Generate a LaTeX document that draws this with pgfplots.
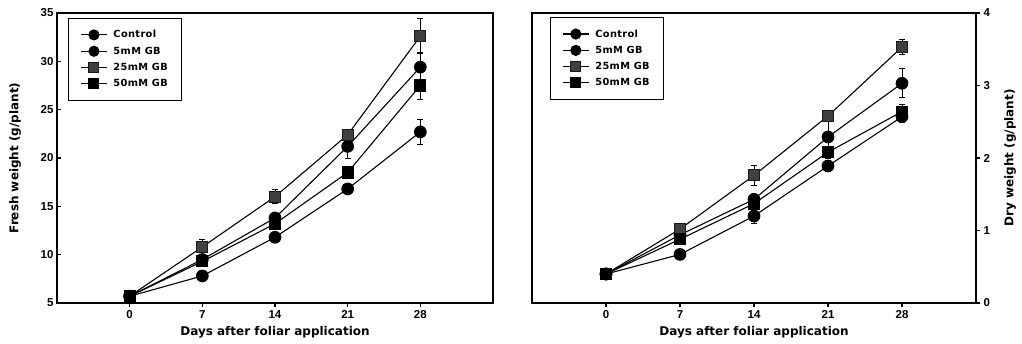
\documentclass[border=0pt]{standalone}
\usepackage{fontspec}
\setmainfont{Liberation Sans}
\newfontfamily\lsfont{DejaVu Sans}
\newfontfamily\lgfont[LetterSpace=3.7]{DejaVu Sans}
\usepackage{pgfplots}
\pgfplotsset{compat=1.18}
\pgfplotsset{
  base/.style={
    scale only axis, height=290pt,
    xmin=-7, xmax=35,
    xtick={0,7,14,21,28},
    major tick length=4pt,
    x tick style={line width=1.2pt, black},
    y tick style={line width=1.2pt, black},
    axis line style={line width=1.6pt},
    /pgf/number format/assume math mode=true,
    ticklabel style={font=\bfseries\fontsize{11.5}{12}\selectfont},
    label style={font=\lsfont\bfseries\fontsize{12}{13}\selectfont},
    legend cell align=left,
    legend style={draw=black, line width=1pt, font=\lgfont\bfseries\fontsize{9.8}{11}\selectfont,
      inner xsep=12pt, inner ysep=10pt, row sep=3.5pt, column sep=4pt, anchor=north west},
    legend image code/.code={\draw[mark repeat=2,mark phase=2] plot coordinates {(0pt,0pt) (13pt,0pt) (26pt,0pt)};},
    legend image post style={mark size=5pt},
    every axis plot/.append style={line width=1.1pt, black,
      error bars/y dir=both, error bars/y explicit,
      error bars/error bar style={line width=1pt, solid},
      error bars/error mark options={rotate=90, mark size=3pt, line width=1pt}},
  },
  ctrl/.style={mark=*, mark size=5.8pt, mark options={fill=black}},
  five/.style={mark=*, mark size=5.8pt, mark options={fill=black}},
  twfive/.style={mark=square*, mark size=5.5pt, mark options={fill=black!75, draw=black!90}},
  fifty/.style={mark=square*, mark size=5.5pt, mark options={fill=black}},
}
\begin{document}
\begin{tikzpicture}
\path[use as bounding box] (0,0) rectangle (1022pt,343pt);
\begin{axis}[base, at={(57pt,40pt)}, anchor=south west, width=436pt,
  ymin=5, ymax=35, ytick={5,10,...,35},
  xtick pos=bottom, ytick pos=left,
  xtick align=outside, ytick align=inside,
  xlabel={Days after foliar application},
  ylabel={Fresh weight (g/plant)},
  xlabel style={at={(axis description cs:0.5,-0.1)}, anchor=center},
  ylabel style={at={(axis description cs:-0.096,0.5)}, anchor=center},
  legend style={at={(axis description cs:0.025,0.983)}},
]
\addplot[ctrl] coordinates {(0,5.7) +- (0,0.2) (7,7.8) +- (0,0.2) (14,11.8) +- (0,0.3) (21,16.8) +- (0,0.3) (28,22.7) +- (0,1.3)};
\addlegendentry{Control}
\addplot[five] coordinates {(0,5.7) +- (0,0.2) (7,9.5) +- (0,0.3) (14,13.8) +- (0,0.4) (21,21.2) +- (0,1.2) (28,29.4) +- (0,1.5)};
\addlegendentry{5mM GB}
\addplot[twfive] coordinates {(0,5.7) +- (0,0.2) (7,10.8) +- (0,0.8) (14,16.0) +- (0,0.7) (21,22.4) +- (0,0.3) (28,32.6) +- (0,1.8)};
\addlegendentry{25mM GB}
\addplot[fifty] coordinates {(0,5.7) +- (0,0.2) (7,9.3) +- (0,0.3) (14,13.2) +- (0,0.4) (21,18.5) +- (0,0.4) (28,27.5) +- (0,1.4)};
\addlegendentry{50mM GB}
\end{axis}
\begin{axis}[base, at={(532pt,40pt)}, anchor=south west, width=444pt,
  ymin=0, ymax=4, ytick={0,1,2,3,4},
  xtick pos=bottom, ytick pos=right, yticklabel pos=right,
  xtick align=outside, ytick align=outside,
  xlabel={Days after foliar application},
  ylabel={Dry weight (g/plant)},
  xlabel style={at={(axis description cs:0.5,-0.1)}, anchor=center},
  ylabel style={at={(axis description cs:1.077,0.5)}, anchor=center, rotate=0},
  legend style={at={(axis description cs:0.04,0.986)}},
]
\addplot[ctrl] coordinates {(0,0.40) +- (0,0.02) (7,0.67) +- (0,0.03) (14,1.20) +- (0,0.10) (21,1.89) +- (0,0.08) (28,2.57) +- (0,0.08)};
\addlegendentry{Control}
\addplot[five] coordinates {(0,0.40) +- (0,0.02) (7,0.94) +- (0,0.03) (14,1.43) +- (0,0.05) (21,2.29) +- (0,0.25) (28,3.03) +- (0,0.20)};
\addlegendentry{5mM GB}
\addplot[twfive] coordinates {(0,0.40) +- (0,0.02) (7,1.02) +- (0,0.03) (14,1.76) +- (0,0.14) (21,2.58) +- (0,0.05) (28,3.53) +- (0,0.10)};
\addlegendentry{25mM GB}
\addplot[fifty] coordinates {(0,0.40) +- (0,0.02) (7,0.88) +- (0,0.03) (14,1.37) +- (0,0.05) (21,2.08) +- (0,0.08) (28,2.64) +- (0,0.10)};
\addlegendentry{50mM GB}
\end{axis}
\end{tikzpicture}
\end{document}
